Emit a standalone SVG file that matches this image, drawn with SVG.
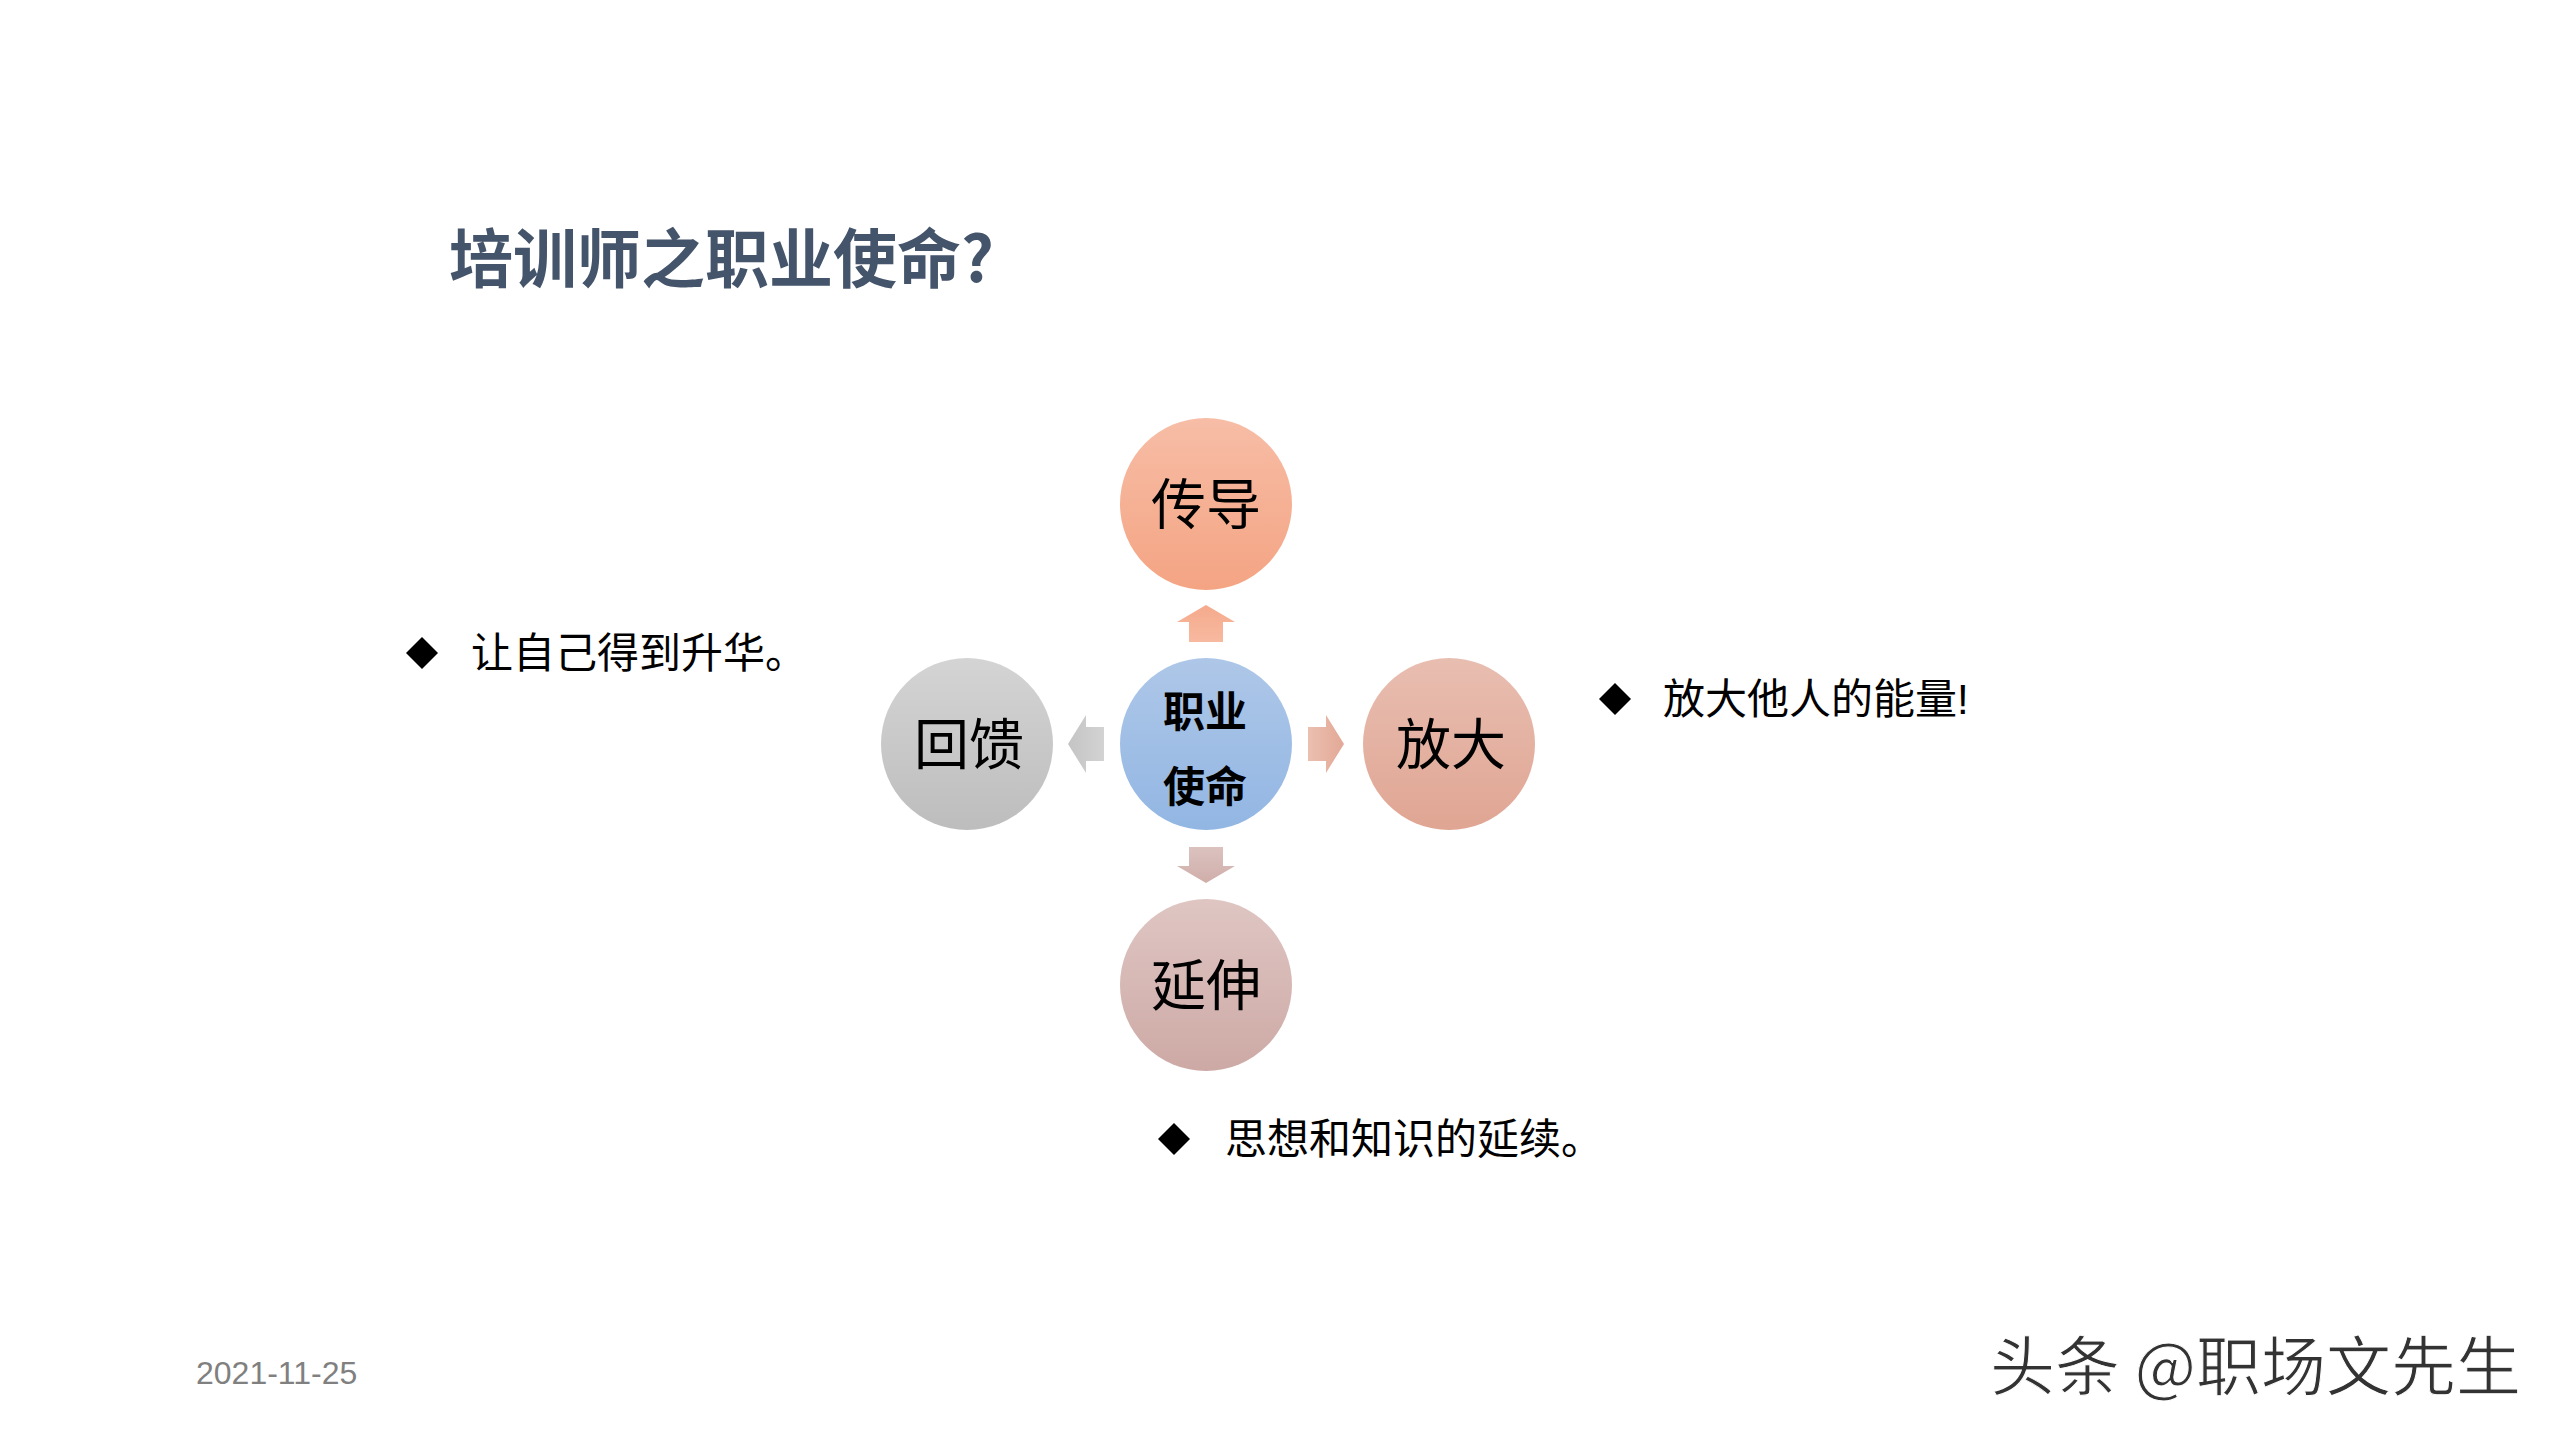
<svg xmlns="http://www.w3.org/2000/svg" width="2560" height="1440" viewBox="0 0 2560 1440">
<defs>
<linearGradient id="gTop" x1="0" y1="0" x2="0" y2="1"><stop offset="0" stop-color="#f7bda6"/><stop offset="1" stop-color="#f4a483"/></linearGradient>
<linearGradient id="gMid" x1="0" y1="0" x2="0" y2="1"><stop offset="0" stop-color="#aec7e8"/><stop offset="1" stop-color="#92b6e3"/></linearGradient>
<linearGradient id="gRight" x1="0" y1="0" x2="0" y2="1"><stop offset="0" stop-color="#e8beb1"/><stop offset="1" stop-color="#e0a593"/></linearGradient>
<linearGradient id="gLeft" x1="0" y1="0" x2="0" y2="1"><stop offset="0" stop-color="#d4d4d4"/><stop offset="1" stop-color="#bdbdbd"/></linearGradient>
<linearGradient id="gBot" x1="0" y1="0" x2="0" y2="1"><stop offset="0" stop-color="#dfc6c3"/><stop offset="1" stop-color="#cda9a5"/></linearGradient>
<linearGradient id="aUp" x1="0" y1="1" x2="0" y2="0"><stop offset="0" stop-color="#f7b9a0"/><stop offset="1" stop-color="#f5aa8c"/></linearGradient>
<linearGradient id="aRight" x1="0" y1="0" x2="1" y2="0"><stop offset="0" stop-color="#ebbfb0"/><stop offset="1" stop-color="#e3a896"/></linearGradient>
<linearGradient id="aLeft" x1="1" y1="0" x2="0" y2="0"><stop offset="0" stop-color="#d3d3d3"/><stop offset="1" stop-color="#c4c4c4"/></linearGradient>
<linearGradient id="aDown" x1="0" y1="0" x2="0" y2="1"><stop offset="0" stop-color="#dbc2bf"/><stop offset="1" stop-color="#d0aeaa"/></linearGradient>
</defs>
<style>
.node{font-family:"Liberation Sans","Noto Sans CJK SC",sans-serif;font-size:55px;fill:#000;text-anchor:middle}
.mid{font-family:"Noto Sans CJK SC",sans-serif;font-size:42px;font-weight:bold;fill:#000;text-anchor:middle}
.bul{font-family:"Liberation Sans","Noto Sans CJK SC",sans-serif;font-size:42px;fill:#000}
</style>
<rect width="2560" height="1440" fill="#fff"/>
<text x="449" y="282" font-family="Noto Sans CJK SC, sans-serif" font-size="64" font-weight="bold" fill="#44546a">培训师之职业使命?</text>
<g id="connectors">
<polygon fill="url(#aUp)" points="1189,642 1189,622 1177,622 1206,605 1235,622 1223,622 1223,642"/>
<polygon fill="url(#aRight)" points="1308,727 1326,727 1326,715 1344,744 1326,773 1326,761 1308,761"/>
<polygon fill="url(#aLeft)" points="1104,727 1086,727 1086,715 1068,744 1086,773 1086,761 1104,761"/>
<polygon fill="url(#aDown)" points="1189,847 1189,866 1177,866 1206,883 1235,866 1223,866 1223,847"/>
</g>
<g id="n-top"><circle cx="1206" cy="504" r="86" fill="url(#gTop)"/><text class="node" x="1206" y="524">传导</text></g>
<g id="n-mid"><circle cx="1206" cy="744" r="86" fill="url(#gMid)"/><text class="mid" x="1205" y="727">职业</text><text class="mid" x="1205" y="802">使命</text></g>
<g id="n-right"><circle cx="1449" cy="744" r="86" fill="url(#gRight)"/><text class="node" x="1451" y="764">放大</text></g>
<g id="n-left"><circle cx="967" cy="744" r="86" fill="url(#gLeft)"/><text class="node" x="969" y="764">回馈</text></g>
<g id="n-bot"><circle cx="1206" cy="985" r="86" fill="url(#gBot)"/><text class="node" x="1206" y="1005">延伸</text></g>
<g id="b1"><polygon points="422,637 438,653 422,669 406,653" fill="#000"/><text class="bul" x="471" y="668">让自己得到升华。</text></g>
<g id="b2"><polygon points="1615,683 1631,699 1615,715 1599,699" fill="#000"/><text class="bul" x="1663" y="714">放大他人的能量!</text></g>
<g id="b3"><polygon points="1174,1123 1190,1139 1174,1155 1158,1139" fill="#000"/><text class="bul" x="1225" y="1154">思想和知识的延续。</text></g>
<text x="196" y="1384" font-family="Liberation Sans, sans-serif" font-size="32" fill="#808080">2021-11-25</text>
<text x="1990" y="1390" font-family="Noto Sans CJK SC, sans-serif" font-size="65" fill="#333" stroke="#fff" stroke-width="1">头条 @职场文先生</text>
</svg>
